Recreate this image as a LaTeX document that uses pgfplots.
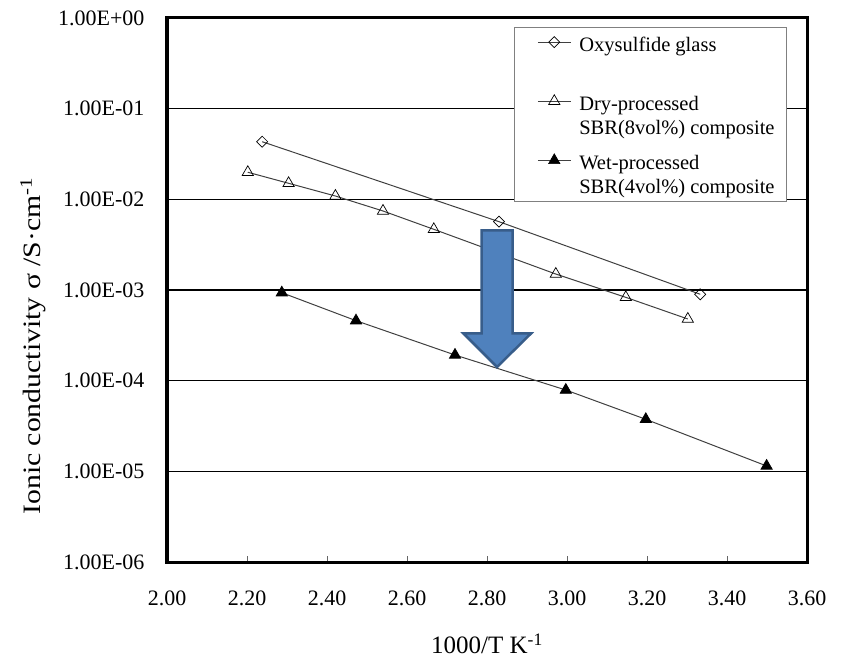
\documentclass[border=0pt]{standalone}
\usepackage{pgfplots}
\pgfplotsset{compat=1.18}
\usepackage{fontspec}
\setmainfont{Liberation Serif}
\definecolor{arrowfill}{HTML}{4F81BD}
\definecolor{arrowedge}{HTML}{385D8A}
\begin{document}
\begin{tikzpicture}[font=\fontsize{22bp}{26bp}\selectfont]
\path[use as bounding box] (0,0) rectangle (843bp,660bp);
\begin{axis}[
  at={(167bp,98bp)}, anchor=south west,
  scale only axis, width=640bp, height=544bp,
  xmin=2, xmax=3.6, ymin=1e-6, ymax=1, ymode=log,
  xtick={2.0,2.2,2.4,2.6,2.8,3.0,3.2,3.4,3.6},
  xticklabels={2.00,2.20,2.40,2.60,2.80,3.00,3.20,3.40,3.60},
  ytick={1e-6,1e-5,1e-4,1e-3,1e-2,1e-1,1},
  yticklabels={1.00E-06,1.00E-05,1.00E-04,1.00E-03,1.00E-02,1.00E-01,1.00E+00},
  yminorticks=false, xminorticks=false,
  ymajorgrids, grid style={black, line width=1.3bp},
  axis line style={line width=3bp},
  xtick pos=bottom, ytick pos=left,
  tick align=inside, major tick length=6bp,
  xtick style={black!60, line width=0.8bp},
  ytick style={draw=none},
  xticklabel style={yshift=-25bp},
  yticklabel style={xshift=-19bp},
  xlabel={\fontsize{25bp}{29bp}\selectfont 1000/T K\textsuperscript{-1}},
  ylabel={\fontsize{25bp}{29bp}\selectfont\scalebox{1.19}[1]{Ionic conductivity σ /S·cm\textsuperscript{-1}}},
  every axis x label/.style={at={(rel axis cs:0.5,-0.1691)}, anchor=base},
  every axis y label/.style={at={(rel axis cs:-0.209,0.397)}, anchor=center, rotate=90},
  legend image code/.code={\path (0bp,0bp) (52bp,24bp);
    \draw[mark repeat=2,mark phase=2] plot coordinates {(13bp,13.5bp)(29.5bp,13.5bp)(46bp,13.5bp)};},
  legend cell align=left,
  legend style={at={(rel axis cs:0.542,0.984)}, anchor=north west, draw=gray, line width=0.8bp, fill=white,
    font=\fontsize{20.5bp}{24bp}\selectfont, row sep=11.5bp, inner xsep=10bp, inner ysep=4bp},
]
\addplot[black!75, line width=1bp, mark=square, mark size=3.9bp,
  mark options={black, fill=white, rotate=45, line width=0.7bp}]
  coordinates {(2.238,0.0432)(2.830,0.00567)(3.333,0.000897)};
\addlegendentry{\begin{tabular}[b]{@{}l@{}}Oxysulfide glass\\ \mbox{}\end{tabular}}
\addplot[black!75, line width=1bp, mark=triangle, mark size=6.5bp,
  mark options={black, fill=white, line width=0.7bp}]
  coordinates {(2.202,0.0199)(2.304,0.01503)(2.421,0.01088)(2.540,0.00744)(2.667,0.00467)(2.972,0.00150)(3.147,0.00083)(3.302,0.000479)};
\addlegendentry{\begin{tabular}[b]{@{}l@{}}Dry-processed\\SBR(8vol\%) composite\end{tabular}}
\addplot[black!75, line width=1bp, mark=triangle*, mark size=6.5bp,
  mark options={black, fill=black, line width=0.7bp}]
  coordinates {(2.287,0.000934)(2.4725,0.000459)(2.720,0.000192)(2.997,0.0000789)(3.197,0.0000375)(3.499,0.00001146)};
\addlegendentry{\begin{tabular}[b]{@{}l@{}}Wet-processed\\SBR(4vol\%) composite\end{tabular}}
\end{axis}
\draw[arrowedge, fill=arrowfill, line width=2.5bp, line join=miter]
  (481.5bp,429.5bp) -- (512.5bp,429.5bp) -- (512.5bp,326.5bp) -- (531bp,326.5bp)
  -- (497bp,293bp) -- (463.5bp,326.5bp) -- (481.5bp,326.5bp) -- cycle;
\end{tikzpicture}
\end{document}
